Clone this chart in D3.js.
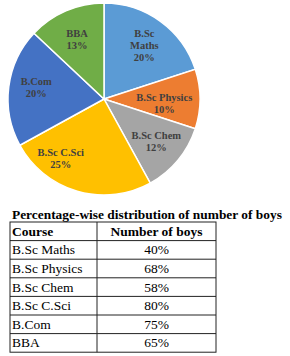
<!DOCTYPE html>
<html>
<head>
<meta charset="utf-8">
<script src="https://cdn.jsdelivr.net/npm/d3@7"></script>
<style>
  html, body { margin: 0; padding: 0; background: #fff; }
  svg { display: block; }
</style>
</head>
<body>
<svg id="chart" width="290" height="356"></svg>
<script>
// pie data
var courses = ['B.Sc Maths', 'B.Sc Physics', 'B.Sc Chem', 'B.Sc C.Sci', 'B.Com', 'BBA'];
var shares = [20, 10, 12, 25, 20, 13];
// label lines inside slices
var sliceLabels = [['B.Sc', 'Maths'], ['B.Sc Physics'], ['B.Sc Chem'], ['B.Sc C.Sci'], ['B.Com'], ['BBA']];
// table data
var tableTitle = 'Percentage-wise distribution of number of boys';
var tableHeader = ['Course', 'Number of boys'];
var boys = [40, 68, 58, 80, 75, 65];

var colors = ['#5B9BD5', '#ED7D31', '#A5A5A5', '#FFC000', '#4472C4', '#70AD47'];
// small nudges for labels (style only)
var labelNudge = [[2, -1], [-5, 4], [2, 0], [-25, -4], [-3, -4], [-1, 0]];

var svg = d3.select('#chart');
var cx = 104, cy = 99, r = 96;
var serif = '"Liberation Serif", "Times New Roman", serif';

var pie = d3.pie().sort(null).value(function(d){ return d; });
var arc = d3.arc().innerRadius(0).outerRadius(r);
var labelArc = d3.arc().innerRadius(r * 0.68).outerRadius(r * 0.68);

var g = svg.append('g').attr('transform', 'translate(' + cx + ',' + cy + ')');
var arcs = pie(shares);

g.selectAll('path.slice')
  .data(arcs)
  .enter().append('path')
  .attr('class', 'slice')
  .attr('d', arc)
  .attr('fill', function(d, i){ return colors[i]; })
  .attr('stroke', '#fff')
  .attr('stroke-width', 1.5);

var lineH = 12;
g.selectAll('text.lbl')
  .data(arcs)
  .enter().append('text')
  .attr('class', 'lbl')
  .attr('font-family', serif)
  .attr('font-weight', 'bold')
  .attr('font-size', '10.5px')
  .attr('fill', '#404040')
  .attr('text-anchor', 'middle')
  .each(function(d, i){
    var c = labelArc.centroid(d);
    var x = c[0] + labelNudge[i][0], y = c[1] + labelNudge[i][1];
    var lines = sliceLabels[i].concat([shares[i] + '%']);
    var y0 = y - (lines.length - 1) * lineH / 2 + 4;
    var t = d3.select(this);
    lines.forEach(function(s, k){
      t.append('tspan').attr('x', x).attr('y', y0 + k * lineH).text(s);
    });
  });

// table
var tLeft = 10, tTop = 222, colSplit = 97, tRight = 216, rowH = 18.6;
var rows = courses.map(function(c, i){ return [c, boys[i] + '%']; });

svg.append('text')
  .attr('x', 12).attr('y', 219)
  .attr('font-family', serif)
  .attr('font-weight', 'bold')
  .attr('font-size', '13.4px')
  .attr('fill', '#000')
  .text(tableTitle);

var y = d3.scaleLinear().domain([0, rows.length + 1]).range([tTop, tTop + rowH * (rows.length + 1)]);
var tbl = svg.append('g');

tbl.append('rect')
  .attr('x', tLeft).attr('y', y(0))
  .attr('width', tRight - tLeft).attr('height', y(rows.length + 1) - y(0))
  .attr('fill', 'none').attr('stroke', '#222').attr('stroke-width', 1);

d3.range(1, rows.length + 1).forEach(function(k){
  tbl.append('line')
    .attr('x1', tLeft).attr('x2', tRight)
    .attr('y1', y(k)).attr('y2', y(k))
    .attr('stroke', '#222').attr('stroke-width', 1);
});
tbl.append('line')
  .attr('x1', colSplit).attr('x2', colSplit)
  .attr('y1', y(0)).attr('y2', y(rows.length + 1))
  .attr('stroke', '#222').attr('stroke-width', 1);

var allRows = [tableHeader].concat(rows);
allRows.forEach(function(row, k){
  var bold = k == 0;
  tbl.append('text')
    .attr('x', tLeft + 2).attr('y', y(k) + rowH / 2 + 4.5)
    .attr('font-family', serif)
    .attr('font-weight', bold ? 'bold' : 'normal')
    .attr('font-size', '13.5px')
    .attr('fill', '#000')
    .text(row[0]);
  tbl.append('text')
    .attr('x', (colSplit + tRight) / 2).attr('y', y(k) + rowH / 2 + 4.5)
    .attr('text-anchor', 'middle')
    .attr('font-family', serif)
    .attr('font-weight', bold ? 'bold' : 'normal')
    .attr('font-size', '13.5px')
    .attr('fill', '#000')
    .text(row[1]);
});
</script>
</body>
</html>
